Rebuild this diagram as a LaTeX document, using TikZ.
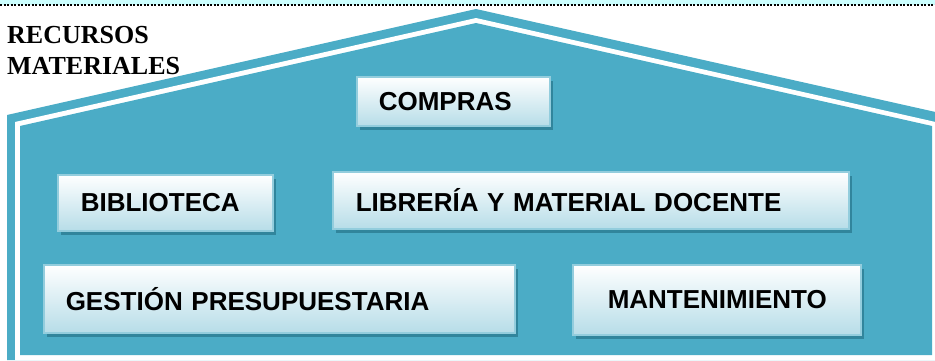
\documentclass[tikz,border=0pt]{standalone}
\usepackage{fontspec}
\setmainfont{Liberation Serif}
\newfontfamily\boxfont{Liberation Sans}
\usetikzlibrary{shadows}
\definecolor{houseteal}{HTML}{4BACC6}
\definecolor{boxblue}{HTML}{B7DDE8}
\definecolor{boxline}{HTML}{93CDDD}
\definecolor{boxshadow}{HTML}{31859C}
\definecolor{topstrip}{HTML}{CCFFFF}
\tikzset{
  dept/.style={draw=boxline, line width=1.5pt, top color=white, bottom color=boxblue,
    anchor=north west, align=left, inner ysep=0pt,
    font=\boxfont\bfseries\fontsize{26}{30}\selectfont,
    drop shadow={shadow xshift=3pt, shadow yshift=-4pt, fill=boxshadow, opacity=1}},
}
\begin{document}
\begin{tikzpicture}[x=1pt, y=-1pt]
\useasboundingbox (0,0) rectangle (935,360);
% page edge
\fill [topstrip] (0,0) rectangle (935,5);
\draw [line width=2pt, dash pattern=on 2pt off 1.5pt] (0,4.5)--(935,4.5);
% house
\fill [houseteal] (7,360)--(7,115)--(476,9)--(940,113)--(940,360)--cycle;
\fill [white] (15,360)--(15,122)--(476,18)--(940,123)--(940,360)--cycle;
\fill [houseteal] (20,355)--(20,126)--(476,23)--(932,126)--(932,355)--cycle;
\node [anchor=base west, align=left, inner sep=0pt, font=\bfseries\fontsize{26}{31}\selectfont]
  (titulo) at (7,74) {RECURSOS\\MATERIALES};
% departamentos
\node [dept, inner xsep=22pt, text width=149pt, minimum height=49pt] (compras) at (356,76) {COMPRAS};
\node [dept, inner xsep=23pt, text width=169pt, minimum height=56pt] (biblioteca) at (57,174) {BIBLIOTECA};
\node [dept, inner xsep=23pt, text width=470pt, minimum height=57pt] (libreria) at (332,171) {LIBRERÍA Y MATERIAL DOCENTE};
\node [dept, inner xsep=22pt, text width=427pt, minimum height=68pt] (gestion) at (43,264) {GESTIÓN PRESUPUESTARIA};
\node [dept, inner xsep=35pt, text width=218pt, minimum height=70pt] (mantenimiento) at (572,264) {MANTENIMIENTO};
\end{tikzpicture}
\end{document}
